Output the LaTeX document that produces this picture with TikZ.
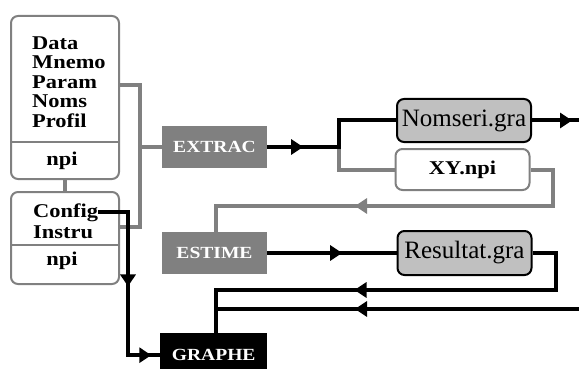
\documentclass[tikz,border=0pt]{standalone}
\usepackage{fontspec}
\setmainfont{Liberation Serif}
\newfontfamily\widefont[FakeStretch=1.15]{Liberation Serif}
\usetikzlibrary{arrows.meta, decorations.markings, calc}
\definecolor{ink}  {HTML}{000000}
\definecolor{wire} {HTML}{808080}
\definecolor{shade}{HTML}{C0C0C0}
\tikzset{
  filebox/.style = {draw=wire, line width=2pt, rounded corners=7pt,
                    fill=white, inner sep=0pt, anchor=north west},
  listtxt/.style = {font=\widefont\bfseries\fontsize{19.5}{19.5}\selectfont,
                    inner sep=0pt, anchor=base west},
  npitxt/.style  = {listtxt, anchor=base},
  prog/.style    = {fill=wire, text=white, inner sep=0pt,
                    minimum width=105pt, minimum height=42pt,
                    font=\widefont\bfseries\fontsize{17}{18}\selectfont},
  gfile/.style   = {draw=ink, line width=2pt, rounded corners=7pt, fill=shade,
                    minimum width=134pt, minimum height=43pt, inner sep=0pt,
                    font=\rmfamily\fontsize{25}{25}\selectfont},
  wfile/.style   = {gfile, draw=wire, fill=white,
                    font=\widefont\bfseries\fontsize{19.5}{19.5}\selectfont},
  gline/.style   = {draw=wire, line width=4pt},
  bline/.style   = {draw=ink, line width=4pt},
  tipat/.style   = {postaction={decorate, decoration={markings,
                    mark=at position #1 with {\arrow{Triangle[length=12pt,width=15pt]}}}}},
}

\begin{document}
\begin{tikzpicture}[x=1pt, y=-1pt]
  \useasboundingbox (0,0) rectangle (579,369);

  % source files
  \node[filebox, minimum width=108pt, minimum height=163pt] (src) at (10,15) {};
  \draw[wire, line width=2pt] (src.west |- 0,142) -- (src.east |- 0,142);
  \foreach \w [count=\i] in {Data,Mnemo,Param,Noms,Profil}
    \node[listtxt] (src\i) at (32, 30+19.5*\i) {\w};
  \node[npitxt] (srcnpi) at (62,165) {npi};

  % configuration files
  \node[filebox, minimum width=108pt, minimum height=92pt] (cfg) at (10,191) {};
  \draw[wire, line width=2pt] (cfg.west |- 0,245) -- (cfg.east |- 0,245);
  \node[listtxt] (config) at (33,217) {Config};
  \node[listtxt] (instru) at (33,238) {Instru};
  \node[npitxt] (cfgnpi) at (62,265) {npi};

  % programs
  \node[prog] (extrac) at (214.5,147) {EXTRAC};
  \node[prog] (estime) at (214.5,253) {ESTIME};
  \node[prog, fill=ink, minimum width=107pt, minimum height=44pt,
        anchor=north west] (graphe) at (160,333) {GRAPHE};

  % generated files
  \node[gfile] (nomseri) at (464,120.5) {Nomseri.gra};
  \node[wfile, minimum height=41pt] (xynpi) at (462.5,169.5) {XY.npi};
  \node[gfile, minimum height=44pt] (resultat) at (464.5,253) {Resultat.gra};

  % junctions
  \coordinate (gtop) at (140,85);
  \coordinate (gbot) at (140,227);
  \coordinate (jx) at (extrac.east -| 339,0);
  \coordinate (gr) at (553,206);
  \coordinate (ge) at (216,206);
  \coordinate (rr) at (556,290);
  \coordinate (gj) at (216,290);
  \coordinate (inb) at (579,309);
  \coordinate (cb) at (graphe.west -| 128,0);

  % grey links
  \draw[gline] (src.south -| 65,0) -- (cfg.north -| 65,0);
  \draw[gline] (src.east |- gtop) -- (gtop) -- (gbot) -- (cfg.east |- gbot);
  \draw[gline] (gtop |- extrac.west) -- (extrac.west);
  \draw[gline] (jx) |- (xynpi.west);
  \draw[gline, tipat=257pt] (xynpi.east) -| (gr) -- (ge) -- (ge |- estime.north);

  % black links
  \draw[bline, tipat=36pt] (extrac.east) -- (jx) |- (nomseri.west);
  \draw[bline, tipat=40pt] (nomseri.east) -- (nomseri.east -| 579,0);
  \draw[bline, tipat=0.58] (estime.east) -- (resultat.west);
  \draw[bline, tipat=262pt] (resultat.east) -| (rr) -- (gj) -- (gj |- graphe.north);
  \draw[bline, tipat=224pt] (inb) -- (inb -| gj);
  \draw[bline, tipat=104pt, tipat=196pt] (config.east) -| (cb) -- (graphe.west);

\end{tikzpicture}
\end{document}
